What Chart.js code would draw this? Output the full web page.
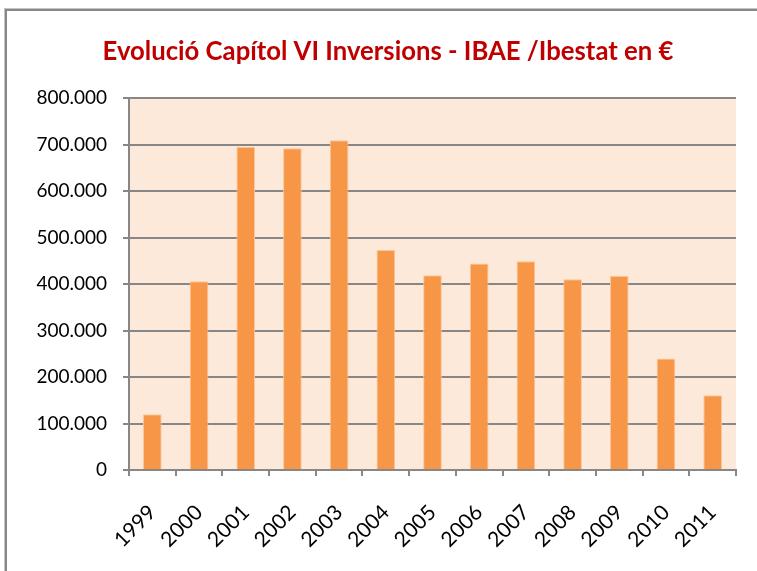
<!DOCTYPE html>
<html>
<head>
<meta charset="utf-8">
<script src="https://cdn.jsdelivr.net/npm/chart.js@4"></script>
<style>
  html, body { margin: 0; padding: 0; background: #ffffff; overflow: hidden; }
  #frame { position: absolute; left: 5px; top: 9px; width: 900px; height: 700px;
           border: 2px solid #878787; box-shadow: 0 0 0 1px #c4c4c4; }
  #c { position: absolute; left: 0; top: 0; }
</style>
</head>
<body>
<div id="frame"></div>
<canvas id="c" width="757" height="571"></canvas>
<script>
const titleText = 'Evolució Capítol VI Inversions - IBAE /Ibestat en €';
const years = ['1999','2000','2001','2002','2003','2004','2005','2006','2007','2008','2009','2010','2011'];
const investment = [120000, 406000, 695000, 692000, 709000, 473000, 419000, 444000, 449000, 410000, 418000, 240000, 161000];
const yTickValues = [0, 100000, 200000, 300000, 400000, 500000, 600000, 700000, 800000];
const yTickLabels = ['0', '100.000', '200.000', '300.000', '400.000', '500.000', '600.000', '700.000', '800.000'];

const FONT = 'Lato, "Liberation Sans", sans-serif';
const GRID = '#878787';

const plotBg = {
  id: 'plotBg',
  beforeDraw(chart) {
    const a = chart.chartArea, ctx = chart.ctx;
    ctx.save();
    ctx.fillStyle = '#FDE9D9';
    ctx.fillRect(a.left, a.top, a.right - a.left, a.bottom - a.top);
    ctx.restore();
  }
};

const chartTitle = {
  id: 'chartTitle',
  afterDraw(chart) {
    const ctx = chart.ctx;
    ctx.save();
    ctx.fillStyle = '#C00000';
    ctx.font = 'bold 25.7px ' + FONT;
    ctx.textAlign = 'center';
    ctx.textBaseline = 'middle';
    ctx.fillText(titleText, 388, 52);
    ctx.restore();
  }
};

new Chart(document.getElementById('c'), {
  type: 'bar',
  data: {
    labels: years,
    datasets: [{
      data: investment,
      backgroundColor: '#F79646',
      borderColor: '#FBC69C',
      borderWidth: 1,
      barPercentage: 0.4,
      categoryPercentage: 1.0
    }]
  },
  options: {
    responsive: false,
    animation: false,
    layout: { padding: { left: 0, right: 21, top: 98, bottom: 0 } },
    plugins: {
      legend: { display: false },
      tooltip: { enabled: false },
      title: { display: false }
    },
    scales: {
      x: {
        grid: { display: true, drawOnChartArea: false, drawTicks: true, tickLength: 6, color: GRID, lineWidth: 2, offset: true },
        border: { display: true, color: GRID, width: 2 },
        ticks: { color: '#000000', font: { family: FONT, size: 21 }, maxRotation: 45, minRotation: 45, autoSkip: false, padding: 24 },
        afterFit(scale) { scale.height = 101; }
      },
      y: {
        min: 0,
        max: 800000,
        afterBuildTicks(scale) { scale.ticks = yTickValues.map(v => ({ value: v })); },
        grid: { color: GRID, lineWidth: 2, tickLength: 6, drawTicks: true },
        border: { display: true, color: GRID, width: 2 },
        ticks: {
          color: '#000000',
          font: { family: FONT, size: 19 },
          padding: 16,
          callback(value) { const i = yTickValues.indexOf(value); return i >= 0 ? yTickLabels[i] : ''; }
        },
        afterFit(scale) { scale.width = 129; }
      }
    }
  },
  plugins: [plotBg, chartTitle]
});
</script>
</body>
</html>
